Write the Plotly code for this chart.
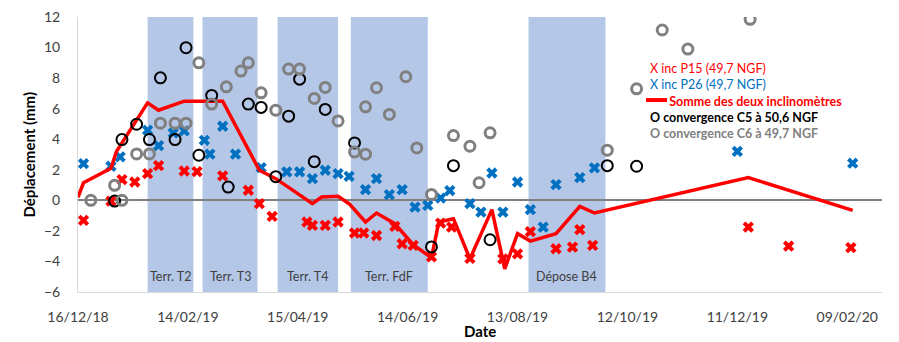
import plotly.graph_objects as go
import pandas as pd

# ---------------- data ----------------
p15_dates = ["2018-12-19", "2019-01-03", "2019-01-09", "2019-01-16", "2019-01-23", "2019-01-29",
             "2019-02-12", "2019-02-19", "2019-03-05", "2019-03-19", "2019-03-25", "2019-04-01",
             "2019-04-20", "2019-04-23", "2019-04-30", "2019-05-07", "2019-05-16", "2019-05-21",
             "2019-05-28", "2019-06-07", "2019-06-11", "2019-06-17", "2019-06-27", "2019-07-02",
             "2019-07-08", "2019-07-18", "2019-08-05", "2019-08-13", "2019-08-20", "2019-09-03",
             "2019-09-12", "2019-09-16", "2019-09-23", "2019-12-17", "2020-01-08", "2020-02-11"]
p15_values = [-1.31, -0.05, 1.36, 1.2, 1.75, 2.27,
              1.92, 1.88, 1.6, 0.66, -0.22, -1.05,
              -1.42, -1.64, -1.64, -1.42, -2.14, -2.14,
              -2.3, -1.7, -2.84, -2.95, -3.7, -1.49,
              -1.75, -3.8, -3.83, -3.5, -2.05, -3.17,
              -3.06, -1.92, -2.95, -1.75, -3.0, -3.1]

p26_dates = ["2018-12-19", "2019-01-03", "2019-01-08", "2019-01-23", "2019-01-29", "2019-02-06",
             "2019-02-12", "2019-02-23", "2019-02-26", "2019-03-05", "2019-03-12", "2019-03-26",
             "2019-04-09", "2019-04-16", "2019-04-23", "2019-04-30", "2019-05-07", "2019-05-13",
             "2019-05-22", "2019-05-28", "2019-06-04", "2019-06-11", "2019-06-18", "2019-06-25",
             "2019-07-02", "2019-07-07", "2019-07-18", "2019-07-24", "2019-07-30", "2019-08-05",
             "2019-08-13", "2019-08-20", "2019-08-27", "2019-09-03", "2019-09-16", "2019-09-24",
             "2019-12-11", "2020-02-12"]
p26_values = [2.4, 2.23, 2.84, 4.59, 3.58, 4.41,
              4.55, 3.93, 3.02, 4.85, 3.02, 2.14,
              1.86, 1.86, 1.42, 1.97, 1.75, 1.57,
              0.7, 1.42, 0.37, 0.7, -0.44, -0.33,
              0.15, 0.64, -0.22, -0.77, 1.79, -0.77,
              1.2, -0.61, -1.75, 1.03, 1.49, 2.12,
              3.2, 2.43]

somme_dates = ["2018-12-16", "2018-12-19", "2019-01-03", "2019-01-06", "2019-01-23", "2019-01-29",
               "2019-02-12", "2019-03-05", "2019-03-25", "2019-04-03", "2019-04-23", "2019-04-28",
               "2019-05-07", "2019-05-13", "2019-05-22", "2019-05-28", "2019-06-07", "2019-06-17",
               "2019-06-27", "2019-07-01", "2019-07-09", "2019-07-18", "2019-07-30", "2019-08-06",
               "2019-08-13", "2019-08-20", "2019-09-03", "2019-09-16", "2019-09-24", "2019-12-17",
               "2020-02-12"]
somme_values = [0.2, 1.15, 2.1, 3.2, 6.38, 5.9,
                6.49, 6.49, 1.97, 1.42, -0.22, 0.22,
                0.26, -0.22, -1.42, -0.83, -1.53, -2.9,
                -3.76, -1.42, -1.2, -3.83, -0.61, -4.48,
                -2.18, -2.67, -2.18, -0.39, -0.83, 1.49,
                -0.66]

c5_dates = ["2019-01-05", "2019-01-09", "2019-01-17", "2019-01-24", "2019-01-30", "2019-02-07",
            "2019-02-13", "2019-02-20", "2019-02-27", "2019-03-08", "2019-03-19", "2019-03-26",
            "2019-04-03", "2019-04-10", "2019-04-16", "2019-04-24", "2019-04-30", "2019-05-16",
            "2019-06-27", "2019-07-09", "2019-07-29", "2019-10-01", "2019-10-17"]
c5_values = [-0.05, 3.98, 4.98, 3.98, 8.02, 3.98,
             9.99, 2.95, 6.87, 0.87, 6.3, 6.08,
             1.55, 5.51, 7.93, 2.53, 5.95, 3.76,
             -3.05, 2.27, -2.58, 2.27, 2.23]

c6_dates = ["2018-12-23", "2019-01-05", "2019-01-09", "2019-01-17", "2019-01-24", "2019-01-30",
            "2019-02-07", "2019-02-13", "2019-02-20", "2019-02-27", "2019-03-07", "2019-03-15",
            "2019-03-19", "2019-03-26", "2019-04-03", "2019-04-10", "2019-04-16", "2019-04-24",
            "2019-04-30", "2019-05-07", "2019-05-16", "2019-05-22", "2019-05-22", "2019-05-28",
            "2019-06-04", "2019-06-13", "2019-06-19", "2019-06-27", "2019-07-09", "2019-07-18",
            "2019-07-23", "2019-07-29", "2019-10-01", "2019-10-17", "2019-10-31", "2019-11-14",
            "2019-12-18"]
c6_values = [0.0, 0.98, 0.0, 3.04, 3.04, 5.05,
             5.05, 5.05, 9.0, 6.3, 7.43, 8.46,
             9.0, 7.04, 5.9, 8.59, 8.59, 6.67,
             7.39, 5.2, 3.17, 3.02, 6.12, 7.37,
             5.62, 8.09, 3.43, 0.39, 4.24, 3.54,
             1.15, 4.42, 3.28, 7.3, 11.15, 9.9,
             11.85]

band_labels = ["Terr. T2", "Terr. T3", "Terr. T4", "Terr. FdF", "Dépose B4"]
band_starts = ["2019-01-23", "2019-02-22", "2019-04-04", "2019-05-14", "2019-08-19"]
band_ends = ["2019-02-17", "2019-03-24", "2019-05-07", "2019-06-25", "2019-09-30"]

legend_texts = ["X inc P15 (49,7 NGF)", "X inc P26 (49,7 NGF)", "Somme des deux inclinomètres",
                "O convergence C5 à 50,6 NGF", "O convergence C6 à 49,7 NGF"]

# ---------------- styles ----------------
FONT = "Lato, 'Open Sans', sans-serif"
RED = "#ff0000"
BLUE = "#0070c0"
BAND = "#b4c7e7"
TXT = "#404040"

fig = go.Figure()

fig.add_trace(go.Scatter(x=p15_dates, y=p15_values, mode="markers", name=legend_texts[0],
                         marker=dict(symbol="x", size=10, color=RED, line=dict(width=0))))
fig.add_trace(go.Scatter(x=p26_dates, y=p26_values, mode="markers", name=legend_texts[1],
                         marker=dict(symbol="x", size=10, color=BLUE, line=dict(width=0))))
fig.add_trace(go.Scatter(x=somme_dates, y=somme_values, mode="lines", name=legend_texts[2],
                         line=dict(color=RED, width=3.5)))
fig.add_trace(go.Scatter(x=c5_dates, y=c5_values, mode="markers", name=legend_texts[3],
                         marker=dict(symbol="circle-open", size=11, color="#000000",
                                     line=dict(width=2, color="#000000"))))
fig.add_trace(go.Scatter(x=c6_dates, y=c6_values, mode="markers", name=legend_texts[4],
                         marker=dict(symbol="circle-open", size=10, color="#808080",
                                     line=dict(width=3, color="#808080"))))

shapes = []
annotations = []
for lab, s, e in zip(band_labels, band_starts, band_ends):
    shapes.append(dict(type="rect", xref="x", yref="y domain", x0=s, x1=e, y0=0, y1=1,
                       fillcolor=BAND, line=dict(width=0), layer="below"))
    mid = pd.Timestamp(s) + (pd.Timestamp(e) - pd.Timestamp(s)) / 2
    annotations.append(dict(x=mid.strftime("%Y-%m-%d %H:%M"), xref="x", y=-5.0, yref="y",
                            text=lab, showarrow=False, xanchor="center", yanchor="middle",
                            font=dict(family=FONT, size=12.5, color=TXT)))

# legend (as one multi-line text block, like the original)
leg_colors = [RED, BLUE, RED, "#000000", "#808080"]
leg_bold = [False, False, True, True, True]
leg_indent = ["", "", "&nbsp;" * 6, "", ""]
lines = []
for t, c, b, ind in zip(legend_texts, leg_colors, leg_bold, leg_indent):
    body = ("<b>%s</b>" % t) if b else t
    lines.append("%s<span style='color:%s'>%s</span>" % (ind, c, body))
annotations.append(dict(x=0.709, xref="paper", y=0.693, yref="paper", showarrow=False,
                        text="<br>".join(lines), align="left", xanchor="left", yanchor="middle",
                        font=dict(family=FONT, size=12.5, color=RED)))
shapes.append(dict(type="line", xref="paper", yref="paper", x0=0.7065, x1=0.7326,
                   y0=0.698, y1=0.698, line=dict(color=RED, width=4)))

# axis titles as annotations (fixed positions)
annotations.append(dict(x=0.5, xref="paper", y=-0.14, yref="paper", text="<b>Date</b>",
                        showarrow=False, xanchor="center", yanchor="middle",
                        font=dict(family=FONT, size=15, color="#000000")))
annotations.append(dict(x=-0.061, xref="paper", y=0.5, yref="paper", text="<b>Déplacement (mm)</b>",
                        showarrow=False, xanchor="center", yanchor="middle", textangle=-90,
                        font=dict(family=FONT, size=15, color="#000000")))

fig.update_layout(
    width=899, height=342,
    margin=dict(l=78, r=17, t=17, b=50, autoexpand=False),
    paper_bgcolor="white", plot_bgcolor="white",
    showlegend=False,
    shapes=shapes, annotations=annotations,
    font=dict(family=FONT, size=14, color=TXT),
)
fig.update_xaxes(
    type="date", range=["2018-12-16", "2020-02-28"], automargin=False,
    tick0="2018-12-16", dtick=60 * 86400000, tickformat="%d/%m/%y",
    showgrid=False, zeroline=False, showline=True, linecolor="#d9d9d9", linewidth=1,
    ticks="", ticklabelstandoff=12,
    tickfont=dict(family=FONT, size=14, color=TXT),
)
fig.update_yaxes(
    range=[-6, 12], dtick=2, tick0=0, automargin=False,
    showgrid=False, zeroline=True, zerolinecolor="#808080", zerolinewidth=2,
    showline=True, linecolor="#d9d9d9", linewidth=1,
    ticks="", ticklabelstandoff=14,
    tickfont=dict(family=FONT, size=14, color=TXT),
)

fig.write_html("out.html", config={"displayModeBar": False},
               post_script="document.body.style.margin='0';document.body.style.overflow='hidden';")
